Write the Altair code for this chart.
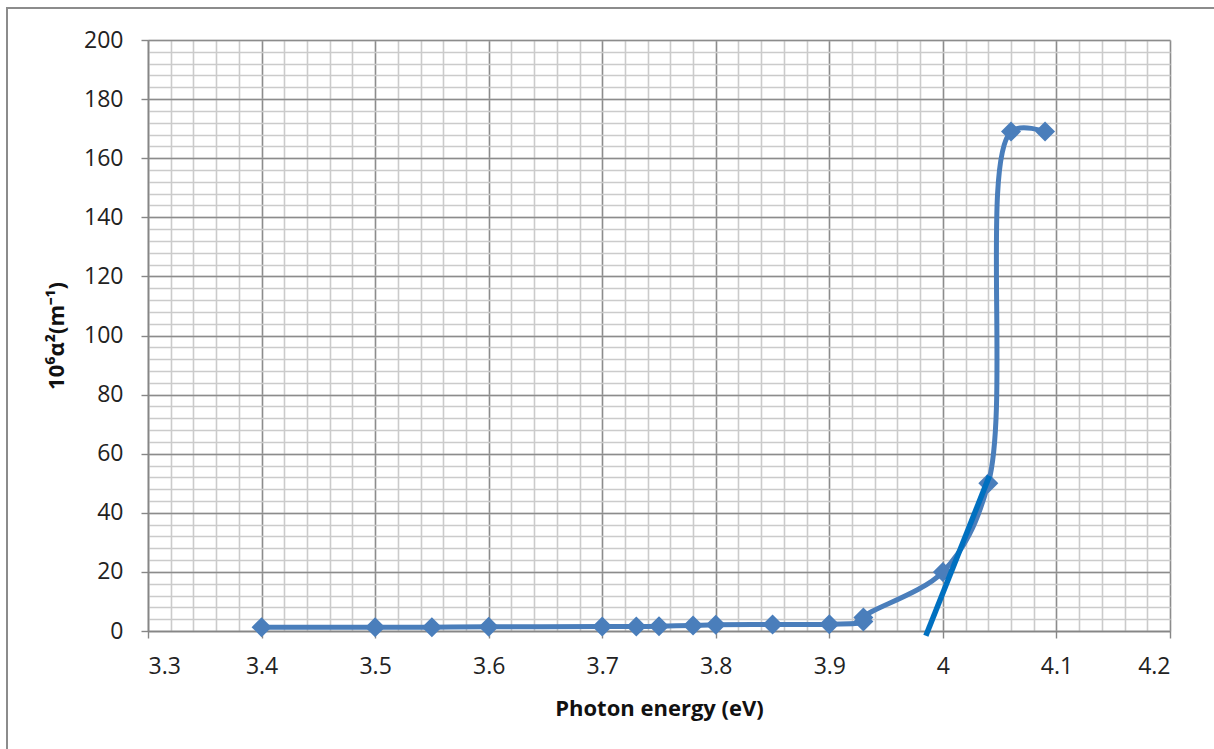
import altair as alt
import pandas as pd

# Measured absorption data
energy = [3.40, 3.50, 3.55, 3.60, 3.70, 3.73, 3.75, 3.78, 3.80, 3.85, 3.90, 3.93, 3.93, 4.00, 4.04, 4.06, 4.09]
alpha_sq = [1.3, 1.3, 1.3, 1.4, 1.5, 1.5, 1.6, 1.9, 2.1, 2.2, 2.3, 3.2, 4.6, 20.0, 50.0, 169.0, 169.0]

# Linear extrapolation of the absorption edge
fit_energy = [3.985, 4.041]
fit_alpha_sq = [-1.6, 52.5]

# Axis tick positions
x_major = [3.3, 3.4, 3.5, 3.6, 3.7, 3.8, 3.9, 4.0, 4.1, 4.2]
x_minor = [round(3.3 + 0.02 * i, 2) for i in range(46)]
y_major = [0, 20, 40, 60, 80, 100, 120, 140, 160, 180, 200]
y_minor = [4 * i for i in range(51)]

df = pd.DataFrame({"E": energy, "a": alpha_sq, "order": list(range(len(energy)))})
fit = pd.DataFrame({"E": fit_energy, "a": fit_alpha_sq})

FONT = "Open Sans"
LABEL_SIZE = 23
TITLE_SIZE = 22
xs = alt.Scale(domain=[3.3, 4.2], nice=False, zero=False)
ys = alt.Scale(domain=[0, 200], nice=False)

# Minor grid layer
minor = alt.Chart(df).mark_point(opacity=0).encode(
    x=alt.X("E:Q", scale=xs, axis=alt.Axis(
        values=x_minor, grid=True, gridColor="#cbcbcb", gridWidth=1.6,
        labels=False, ticks=False, domain=False, title=None, orient="bottom")),
    y=alt.Y("a:Q", scale=ys, axis=alt.Axis(
        values=y_minor, grid=True, gridColor="#cbcbcb", gridWidth=1.6,
        labels=False, ticks=False, domain=False, title=None, orient="left")),
)

# Data series with smoothed line and diamond markers
series = alt.Chart(df).mark_line(
    color="#4a7ebb", strokeWidth=5, interpolate="catmull-rom",
    point=alt.OverlayMarkDef(shape="diamond", size=400, color="#4a7ebb", filled=True, opacity=1),
).encode(
    x=alt.X("E:Q", scale=xs, axis=alt.Axis(
        values=x_major, grid=True, gridColor="#8c8c8c", gridWidth=1.4,
        domainColor="#868686", domainWidth=1.6, tickColor="#868686", tickWidth=1.4,
        tickSize=7, labelFontSize=LABEL_SIZE, labelColor="#222222", labelFont=FONT,
        labelPadding=17, labelExpr="datum.value == 4 ? '4' : format(datum.value, '.1f')",
        title="Photon energy (eV)", titleFont=FONT, titleFontSize=TITLE_SIZE,
        titleFontWeight="bold", titleColor="#111111", titlePadding=20,
        orient="bottom")),
    y=alt.Y("a:Q", scale=ys, axis=alt.Axis(
        values=y_major, grid=True, gridColor="#8c8c8c", gridWidth=1.4,
        domainColor="#868686", domainWidth=1.6, tickColor="#868686", tickWidth=1.4,
        tickSize=7, labelFontSize=LABEL_SIZE, labelColor="#222222", labelFont=FONT,
        labelPadding=18, title="10⁶α²(m⁻¹)", titleFont=FONT, titleFontSize=TITLE_SIZE,
        titleFontWeight="bold", titleColor="#111111", titlePadding=15,
        orient="left")),
    order="order:Q",
)

tangent = alt.Chart(fit).mark_line(color="#0070c0", strokeWidth=5.5, clip=False).encode(
    x=alt.X("E:Q", scale=xs, axis=None),
    y=alt.Y("a:Q", scale=ys, axis=None),
)

# Outer chart frame
frame = alt.Chart(fit).mark_rect(
    fill=None, stroke="#8c8c8c", strokeWidth=2, clip=False
).encode(
    x=alt.value(-141), x2=alt.value(1100),
    y=alt.value(-32), y2=alt.value(760),
)

chart = alt.layer(frame, minor, series, tangent).resolve_axis(
    x="independent", y="independent"
).properties(
    width=1022, height=591,
    autosize=alt.AutoSizeParams(type="none"),
    padding={"left": 148, "top": 40, "right": 44, "bottom": 118},
).configure_view(stroke=None).configure(background="white").configure_axis(
    labelFontSize=LABEL_SIZE, titleFontSize=TITLE_SIZE, labelFont=FONT, titleFont=FONT
)

chart.save("out.html", embed_options={"renderer": "svg", "actions": False})
